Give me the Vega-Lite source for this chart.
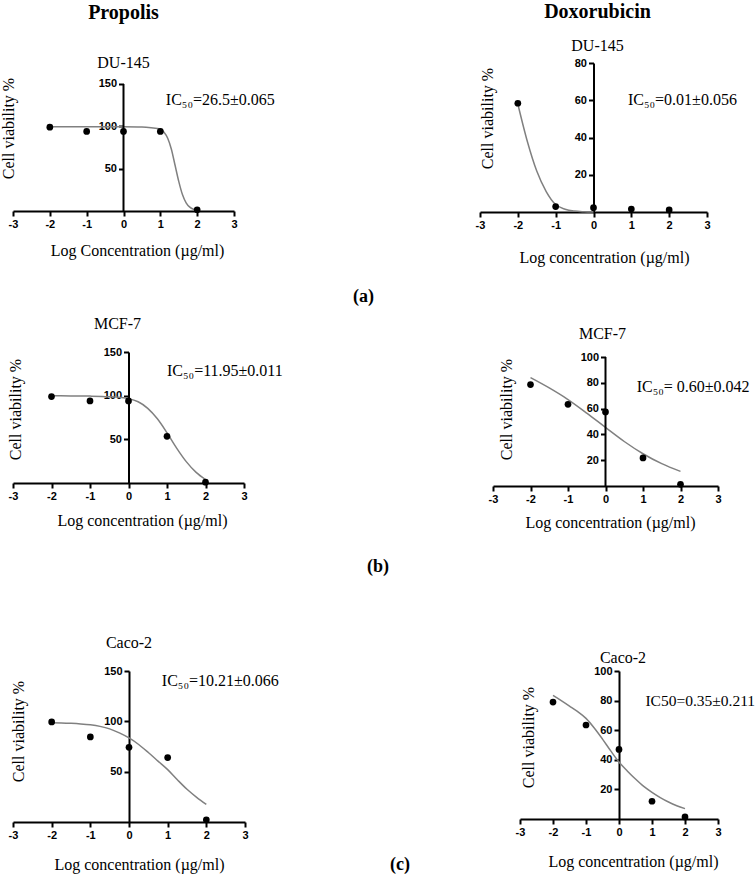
{
  "$schema": "https://vega.github.io/schema/vega-lite/v6.json",
  "padding": {"top": 2, "left": 0, "right": 0, "bottom": 0},
  "background": "white",
  "datasets": {
    "points": [
      {"panel": "P1", "x": -2, "y": 99}, {"panel": "P1", "x": -1, "y": 94}, {"panel": "P1", "x": 0, "y": 94}, {"panel": "P1", "x": 1, "y": 94}, {"panel": "P1", "x": 2, "y": 1.5},
      {"panel": "P2", "x": -2, "y": 58.4}, {"panel": "P2", "x": -1, "y": 2.9}, {"panel": "P2", "x": 0, "y": 2.3}, {"panel": "P2", "x": 1, "y": 1.6}, {"panel": "P2", "x": 2, "y": 1.1},
      {"panel": "P3", "x": -2, "y": 99}, {"panel": "P3", "x": -1, "y": 94}, {"panel": "P3", "x": 0, "y": 94}, {"panel": "P3", "x": 1, "y": 53.5}, {"panel": "P3", "x": 2, "y": 1},
      {"panel": "P4", "x": -2, "y": 78.6}, {"panel": "P4", "x": -1, "y": 63.3}, {"panel": "P4", "x": 0, "y": 57.4}, {"panel": "P4", "x": 1, "y": 21.8}, {"panel": "P4", "x": 2, "y": 1.3},
      {"panel": "P5", "x": -2, "y": 99.4}, {"panel": "P5", "x": -1, "y": 84.5}, {"panel": "P5", "x": 0, "y": 74.2}, {"panel": "P5", "x": 1, "y": 64}, {"panel": "P5", "x": 2, "y": 2.2},
      {"panel": "P6", "x": -2, "y": 79}, {"panel": "P6", "x": -1, "y": 63.5}, {"panel": "P6", "x": 0, "y": 47}, {"panel": "P6", "x": 1, "y": 12}, {"panel": "P6", "x": 2, "y": 1.4}
    ],
    "curve": [
      {"panel": "P1", "x": -2, "y": 99.5}, {"panel": "P1", "x": -1, "y": 99.5}, {"panel": "P1", "x": 0, "y": 99.4}, {"panel": "P1", "x": 0.5, "y": 99.1}, {"panel": "P1", "x": 0.75, "y": 98.3}, {"panel": "P1", "x": 1, "y": 96.8}, {"panel": "P1", "x": 1.1, "y": 93}, {"panel": "P1", "x": 1.2, "y": 86}, {"panel": "P1", "x": 1.3, "y": 73}, {"panel": "P1", "x": 1.4, "y": 54}, {"panel": "P1", "x": 1.5, "y": 35}, {"panel": "P1", "x": 1.6, "y": 19.4}, {"panel": "P1", "x": 1.7, "y": 9.7}, {"panel": "P1", "x": 1.8, "y": 4.6}, {"panel": "P1", "x": 1.9, "y": 2.1}, {"panel": "P1", "x": 2, "y": 1},
      {"panel": "P2", "x": -2, "y": 58}, {"panel": "P2", "x": -1.75, "y": 38}, {"panel": "P2", "x": -1.5, "y": 22}, {"panel": "P2", "x": -1.25, "y": 11}, {"panel": "P2", "x": -1, "y": 4}, {"panel": "P2", "x": -0.75, "y": 1.5}, {"panel": "P2", "x": -0.5, "y": 0.5}, {"panel": "P2", "x": -0.25, "y": 0.15}, {"panel": "P2", "x": 0, "y": 0},
      {"panel": "P3", "x": -2, "y": 99.8}, {"panel": "P3", "x": -1.5, "y": 99.7}, {"panel": "P3", "x": -1, "y": 99.5}, {"panel": "P3", "x": -0.5, "y": 98.8}, {"panel": "P3", "x": 0, "y": 96.5}, {"panel": "P3", "x": 0.25, "y": 93}, {"panel": "P3", "x": 0.5, "y": 85.5}, {"panel": "P3", "x": 0.75, "y": 73.5}, {"panel": "P3", "x": 1, "y": 57.5}, {"panel": "P3", "x": 1.25, "y": 40}, {"panel": "P3", "x": 1.5, "y": 24.5}, {"panel": "P3", "x": 1.75, "y": 12.5}, {"panel": "P3", "x": 2, "y": 4},
      {"panel": "P4", "x": -2, "y": 84}, {"panel": "P4", "x": -1.5, "y": 76}, {"panel": "P4", "x": -1, "y": 67}, {"panel": "P4", "x": -0.5, "y": 56.5}, {"panel": "P4", "x": 0, "y": 45.4}, {"panel": "P4", "x": 0.5, "y": 34.5}, {"panel": "P4", "x": 1, "y": 25}, {"panel": "P4", "x": 1.5, "y": 17.3}, {"panel": "P4", "x": 2, "y": 11.3},
      {"panel": "P5", "x": -2, "y": 98.6}, {"panel": "P5", "x": -1.75, "y": 98.4}, {"panel": "P5", "x": -1.5, "y": 98}, {"panel": "P5", "x": -1.25, "y": 97.4}, {"panel": "P5", "x": -1, "y": 96.5}, {"panel": "P5", "x": -0.75, "y": 95}, {"panel": "P5", "x": -0.5, "y": 92.5}, {"panel": "P5", "x": -0.25, "y": 88.5}, {"panel": "P5", "x": 0, "y": 83.5}, {"panel": "P5", "x": 0.25, "y": 77}, {"panel": "P5", "x": 0.5, "y": 69}, {"panel": "P5", "x": 0.75, "y": 60.5}, {"panel": "P5", "x": 1, "y": 52}, {"panel": "P5", "x": 1.25, "y": 42}, {"panel": "P5", "x": 1.5, "y": 32.5}, {"panel": "P5", "x": 1.75, "y": 24.5}, {"panel": "P5", "x": 2, "y": 17.5},
      {"panel": "P6", "x": -2, "y": 83.5}, {"panel": "P6", "x": -1.75, "y": 80}, {"panel": "P6", "x": -1.5, "y": 76.3}, {"panel": "P6", "x": -1.25, "y": 72.5}, {"panel": "P6", "x": -1, "y": 68}, {"panel": "P6", "x": -0.75, "y": 61.5}, {"panel": "P6", "x": -0.5, "y": 54}, {"panel": "P6", "x": -0.25, "y": 46}, {"panel": "P6", "x": 0, "y": 38.5}, {"panel": "P6", "x": 0.25, "y": 32.5}, {"panel": "P6", "x": 0.5, "y": 27}, {"panel": "P6", "x": 0.75, "y": 22}, {"panel": "P6", "x": 1, "y": 18}, {"panel": "P6", "x": 1.25, "y": 14.5}, {"panel": "P6", "x": 1.5, "y": 11.5}, {"panel": "P6", "x": 1.75, "y": 9}, {"panel": "P6", "x": 2, "y": 7}
    ]
  },
  "concat": [
    {
      "concat": [
        {
          "width": 221, "height": 148,
          "title": {"text": "Propolis", "fontSize": 20, "fontWeight": "bold", "subtitle": "DU-145", "subtitlePadding": 32, "offset": -8, "anchor": "middle", "frame": "group"},
          "layer": [
            {"data": {"name": "curve"}, "transform": [{"filter": "datum.panel === 'P1'"}], "mark": {"type": "line", "color": "#808080", "strokeWidth": 1.5, "interpolate": "monotone"},
             "encoding": {
               "x": {"field": "x", "type": "quantitative", "title": "Log Concentration (µg/ml)", "scale": {"domain": [-3, 3], "nice": false, "zero": false},
                     "axis": {"values": [-3, -2, -1, 0, 1, 2, 3], "tickCount": 10, "labelOverlap": false, "labelFlush": false, "titleX": 124, "titleY": 39, "titleBaseline": "middle"}},
               "y": {"field": "y", "type": "quantitative", "title": "Cell viability %", "scale": {"domain": [0, 174.8], "nice": false, "zero": false},
                     "axis": {"values": [50, 100, 150], "tickCount": 10, "labelOverlap": false, "labelFlush": false, "domain": false, "offset": -110.5, "titleX": -115.5, "titleY": 65, "titleBaseline": "middle", "titleAngle": -90}}
             }},
            {"data": {"name": "points"}, "transform": [{"filter": "datum.panel === 'P1'"}], "mark": {"type": "point", "filled": true, "size": 45, "color": "#000", "opacity": 1},
             "encoding": {"x": {"field": "x", "type": "quantitative", "title": "Log Concentration (µg/ml)"}, "y": {"field": "y", "type": "quantitative", "title": "Cell viability %"}}},
            {"mark": {"type": "rule", "color": "#000", "strokeWidth": 2},
             "data": {"values": [{"axis": "y"}]},
             "encoding": {"x": {"datum": 0, "type": "quantitative", "title": "Log Concentration (µg/ml)"}, "y": {"datum": 0, "type": "quantitative", "title": "Cell viability %"}, "y2": {"datum": 150}}},
            {"data": {"values": [{"label": "IC₅₀=26.5±0.065"}]}, "mark": {"type": "text", "align": "left", "baseline": "middle", "fontSize": 16, "font": "Liberation Serif", "color": "#000"},
             "encoding": {"x": {"datum": 1.15, "type": "quantitative", "title": "Log Concentration (µg/ml)"}, "y": {"datum": 131, "type": "quantitative", "title": "Cell viability %"}, "text": {"field": "label", "type": "nominal"}}}
          ]
        },
        {
          "width": 227, "height": 149,
          "title": {"text": "Doxorubicin", "fontSize": 20, "fontWeight": "bold", "subtitle": "DU-145", "subtitlePadding": 16, "offset": 3, "anchor": "middle", "frame": "group", "dx": 4},
          "layer": [
            {"data": {"name": "curve"}, "transform": [{"filter": "datum.panel === 'P2'"}], "mark": {"type": "line", "color": "#808080", "strokeWidth": 1.5, "interpolate": "monotone"},
             "encoding": {
               "x": {"field": "x", "type": "quantitative", "title": "Log concentration (µg/ml)", "scale": {"domain": [-3, 3], "nice": false, "zero": false},
                     "axis": {"values": [-3, -2, -1, 0, 1, 2, 3], "tickCount": 10, "labelOverlap": false, "labelFlush": false, "titleX": 124, "titleY": 45, "titleBaseline": "middle"}},
               "y": {"field": "y", "type": "quantitative", "title": "Cell viability %", "scale": {"domain": [0, 80], "nice": false, "zero": false},
                     "axis": {"values": [20, 40, 60, 80], "tickCount": 10, "labelOverlap": false, "labelFlush": false, "offset": -113.5, "titleX": -106.5, "titleY": 55, "titleBaseline": "middle", "titleAngle": -90}}
             }},
            {"data": {"name": "points"}, "transform": [{"filter": "datum.panel === 'P2'"}], "mark": {"type": "point", "filled": true, "size": 45, "color": "#000", "opacity": 1},
             "encoding": {"x": {"field": "x", "type": "quantitative", "title": "Log concentration (µg/ml)"}, "y": {"field": "y", "type": "quantitative", "title": "Cell viability %"}}},
            {"data": {"values": [{"label": "IC₅₀=0.01±0.056"}]}, "mark": {"type": "text", "align": "left", "baseline": "middle", "fontSize": 16, "font": "Liberation Serif", "color": "#000"},
             "encoding": {"x": {"datum": 0.91, "type": "quantitative", "title": "Log concentration (µg/ml)"}, "y": {"datum": 60, "type": "quantitative", "title": "Cell viability %"}, "text": {"field": "label", "type": "nominal"}}}
          ]
        }
      ],
      "columns": 2, "align": "none", "spacing": 200,
      "title": {"text": "(a)", "orient": "bottom", "anchor": "start", "frame": "bounds", "dx": 353, "offset": 23, "fontSize": 18, "fontWeight": "bold"}
    },
    {
      "concat": [
        {
          "width": 231, "height": 131,
          "title": {"text": "MCF-7", "offset": 14, "anchor": "middle", "frame": "group", "dx": -11},
          "layer": [
            {"data": {"name": "curve"}, "transform": [{"filter": "datum.panel === 'P3'"}], "mark": {"type": "line", "color": "#808080", "strokeWidth": 1.5, "interpolate": "monotone"},
             "encoding": {
               "x": {"field": "x", "type": "quantitative", "title": "Log concentration (µg/ml)", "scale": {"domain": [-3, 3], "nice": false, "zero": false},
                     "axis": {"values": [-3, -2, -1, 0, 1, 2, 3], "tickCount": 10, "labelOverlap": false, "labelFlush": false, "titleX": 129, "titleY": 37, "titleBaseline": "middle"}},
               "y": {"field": "y", "type": "quantitative", "title": "Cell viability %", "scale": {"domain": [0, 150], "nice": false, "zero": false},
                     "axis": {"values": [50, 100, 150], "tickCount": 10, "labelOverlap": false, "labelFlush": false, "offset": -115.5, "titleX": -113.5, "titleY": 57, "titleBaseline": "middle", "titleAngle": -90}}
             }},
            {"data": {"name": "points"}, "transform": [{"filter": "datum.panel === 'P3'"}], "mark": {"type": "point", "filled": true, "size": 45, "color": "#000", "opacity": 1},
             "encoding": {"x": {"field": "x", "type": "quantitative", "title": "Log concentration (µg/ml)"}, "y": {"field": "y", "type": "quantitative", "title": "Cell viability %"}}},
            {"data": {"values": [{"label": "IC₅₀=11.95±0.011"}]}, "mark": {"type": "text", "align": "left", "baseline": "middle", "fontSize": 16, "font": "Liberation Serif", "color": "#000"},
             "encoding": {"x": {"datum": 1.0, "type": "quantitative", "title": "Log concentration (µg/ml)"}, "y": {"datum": 128, "type": "quantitative", "title": "Cell viability %"}, "text": {"field": "label", "type": "nominal"}}}
          ]
        },
        {
          "width": 225, "height": 134,
          "title": {"text": "MCF-7", "offset": 9, "anchor": "middle", "frame": "group", "dx": -3},
          "layer": [
            {"data": {"name": "curve"}, "transform": [{"filter": "datum.panel === 'P4'"}], "mark": {"type": "line", "color": "#808080", "strokeWidth": 1.5, "interpolate": "monotone"},
             "encoding": {
               "x": {"field": "x", "type": "quantitative", "title": "Log concentration (µg/ml)", "scale": {"domain": [-3, 3], "nice": false, "zero": false},
                     "axis": {"values": [-3, -2, -1, 0, 1, 2, 3], "tickCount": 10, "labelOverlap": false, "labelFlush": false, "titleX": 117, "titleY": 36, "titleBaseline": "middle"}},
               "y": {"field": "y", "type": "quantitative", "title": "Cell viability %", "scale": {"domain": [0, 103.88], "nice": false, "zero": false},
                     "axis": {"values": [20, 40, 60, 80, 100], "tickCount": 10, "labelOverlap": false, "labelFlush": false, "domain": false, "offset": -112.5, "titleX": -99.5, "titleY": 57, "titleBaseline": "middle", "titleAngle": -90}}
             }},
            {"data": {"name": "points"}, "transform": [{"filter": "datum.panel === 'P4'"}], "mark": {"type": "point", "filled": true, "size": 45, "color": "#000", "opacity": 1},
             "encoding": {"x": {"field": "x", "type": "quantitative", "title": "Log concentration (µg/ml)"}, "y": {"field": "y", "type": "quantitative", "title": "Cell viability %"}}},
            {"mark": {"type": "rule", "color": "#000", "strokeWidth": 2},
             "data": {"values": [{"axis": "y"}]},
             "encoding": {"x": {"datum": 0, "type": "quantitative", "title": "Log concentration (µg/ml)"}, "y": {"datum": 0, "type": "quantitative", "title": "Cell viability %"}, "y2": {"datum": 100}}},
            {"data": {"values": [{"label": "IC₅₀= 0.60±0.042"}]}, "mark": {"type": "text", "align": "left", "baseline": "middle", "fontSize": 16, "font": "Liberation Serif", "color": "#000"},
             "encoding": {"x": {"datum": 0.83, "type": "quantitative", "title": "Log concentration (µg/ml)"}, "y": {"datum": 77, "type": "quantitative", "title": "Cell viability %"}, "text": {"field": "label", "type": "nominal"}}}
          ]
        }
      ],
      "columns": 2, "align": "none", "spacing": 205,
      "title": {"text": "(b)", "orient": "bottom", "anchor": "start", "frame": "bounds", "dx": 360, "offset": 28, "fontSize": 18, "fontWeight": "bold"}
    },
    {
      "concat": [
        {
          "width": 232, "height": 151,
          "title": {"text": ["", "Caco-2"], "lineHeight": 49, "offset": 14, "anchor": "middle", "frame": "group", "dx": 0},
          "layer": [
            {"data": {"name": "curve"}, "transform": [{"filter": "datum.panel === 'P5'"}], "mark": {"type": "line", "color": "#808080", "strokeWidth": 1.5, "interpolate": "monotone"},
             "encoding": {
               "x": {"field": "x", "type": "quantitative", "title": "Log concentration (µg/ml)", "scale": {"domain": [-3, 3], "nice": false, "zero": false},
                     "axis": {"values": [-3, -2, -1, 0, 1, 2, 3], "tickCount": 10, "labelOverlap": false, "labelFlush": false, "titleX": 126, "titleY": 42, "titleBaseline": "middle"}},
               "y": {"field": "y", "type": "quantitative", "title": "Cell viability %", "scale": {"domain": [0, 150], "nice": false, "zero": false},
                     "axis": {"values": [50, 100, 150], "tickCount": 10, "labelOverlap": false, "labelFlush": false, "offset": -116, "titleX": -111, "titleY": 60, "titleBaseline": "middle", "titleAngle": -90}}
             }},
            {"data": {"name": "points"}, "transform": [{"filter": "datum.panel === 'P5'"}], "mark": {"type": "point", "filled": true, "size": 45, "color": "#000", "opacity": 1},
             "encoding": {"x": {"field": "x", "type": "quantitative", "title": "Log concentration (µg/ml)"}, "y": {"field": "y", "type": "quantitative", "title": "Cell viability %"}}},
            {"data": {"values": [{"label": "IC₅₀=10.21±0.066"}]}, "mark": {"type": "text", "align": "left", "baseline": "middle", "fontSize": 16, "font": "Liberation Serif", "color": "#000"},
             "encoding": {"x": {"datum": 0.85, "type": "quantitative", "title": "Log concentration (µg/ml)"}, "y": {"datum": 140, "type": "quantitative", "title": "Cell viability %"}, "text": {"field": "label", "type": "nominal"}}}
          ]
        },
        {
          "width": 198, "height": 148,
          "title": {"text": "Caco-2", "offset": -1, "anchor": "middle", "frame": "group", "dx": 4},
          "layer": [
            {"data": {"name": "curve"}, "transform": [{"filter": "datum.panel === 'P6'"}], "mark": {"type": "line", "color": "#808080", "strokeWidth": 1.5, "interpolate": "monotone"},
             "encoding": {
               "x": {"field": "x", "type": "quantitative", "title": "Log concentration (µg/ml)", "scale": {"domain": [-3, 3], "nice": false, "zero": false},
                     "axis": {"values": [-3, -2, -1, 0, 1, 2, 3], "tickCount": 10, "labelOverlap": false, "labelFlush": false, "titleX": 113, "titleY": 42, "titleBaseline": "middle"}},
               "y": {"field": "y", "type": "quantitative", "title": "Cell viability %", "scale": {"domain": [0, 100], "nice": false, "zero": false},
                     "axis": {"values": [20, 40, 60, 80, 100], "tickCount": 10, "labelOverlap": false, "labelFlush": false, "offset": -99, "titleX": -91, "titleY": 66, "titleBaseline": "middle", "titleAngle": -90}}
             }},
            {"data": {"name": "points"}, "transform": [{"filter": "datum.panel === 'P6'"}], "mark": {"type": "point", "filled": true, "size": 45, "color": "#000", "opacity": 1},
             "encoding": {"x": {"field": "x", "type": "quantitative", "title": "Log concentration (µg/ml)"}, "y": {"field": "y", "type": "quantitative", "title": "Cell viability %"}}},
            {"data": {"values": [{"label": "IC50=0.35±0.211"}]}, "mark": {"type": "text", "align": "left", "baseline": "middle", "fontSize": 15.5, "font": "Liberation Serif", "color": "#000"},
             "encoding": {"x": {"datum": 0.8, "type": "quantitative", "title": "Log concentration (µg/ml)"}, "y": {"datum": 80, "type": "quantitative", "title": "Cell viability %"}, "text": {"field": "label", "type": "nominal"}}}
          ]
        }
      ],
      "columns": 2, "align": "none", "spacing": 236,
      "title": {"text": "(c)", "orient": "bottom", "anchor": "start", "frame": "bounds", "dx": 382, "offset": -16, "fontSize": 18, "fontWeight": "bold"}
    }
  ],
  "columns": 1,
  "align": "none",
  "spacing": 10,
  "config": {
    "view": {"stroke": null},
    "axis": {"domainColor": "#000", "domainWidth": 2, "tickColor": "#000", "tickWidth": 2, "tickSize": 5, "labelFont": "Liberation Sans", "labelFontWeight": "bold", "labelFontSize": 11, "labelColor": "#000", "labelPadding": 2, "grid": false, "labelFlush": false, "labelOverlap": false, "labelExpr": "datum.value < 0 ? '-' + abs(datum.value) : '' + datum.value", "titleFont": "Liberation Serif", "titleFontWeight": "normal", "titleFontSize": 16, "titleColor": "#000"},
    "title": {"font": "Liberation Serif", "color": "#000", "fontWeight": "normal", "fontSize": 16, "subtitleFont": "Liberation Serif", "subtitleFontSize": 16, "subtitleColor": "#000"},
    "text": {"font": "Liberation Serif", "fontSize": 16}
  }
}
